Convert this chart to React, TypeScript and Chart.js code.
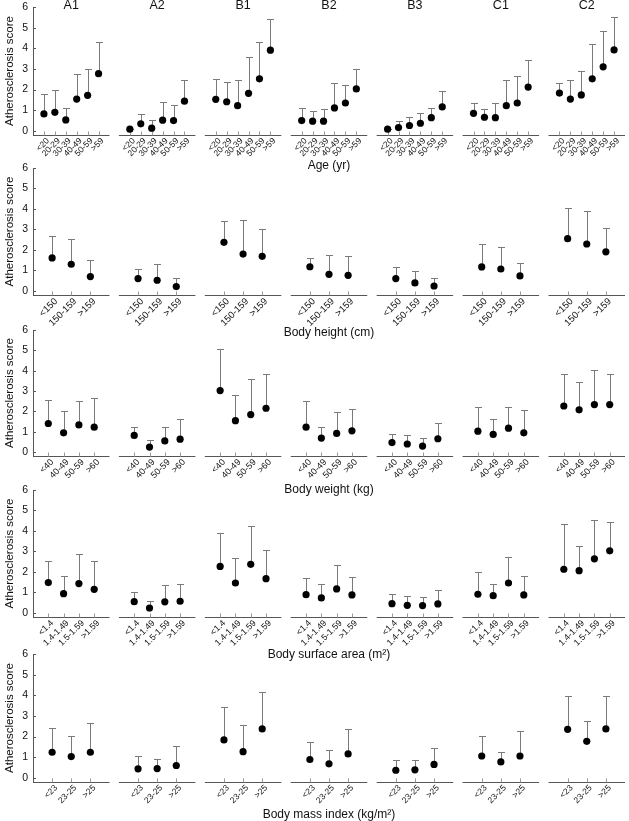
import React, { useEffect, useRef } from "react";
import { Chart, registerables } from "chart.js";
Chart.register(...registerables);

const FONT = "'Liberation Sans', Arial, sans-serif";
Chart.defaults.font.family = FONT;

const PANELS = ["A1", "A2", "B1", "B2", "B3", "C1", "C2"];
const Y_TICKS = [0, 1, 2, 3, 4, 5, 6];
const Y_TITLE = "Atherosclerosis score";

const AGE_LABELS = ["<20", "20-29", "30-39", "40-49", "50-59", ">59"];
const AGE_MEAN = [
  [0.82, 0.9, 0.53, 1.54, 1.72, 2.77],
  [0.08, 0.34, 0.13, 0.52, 0.5, 1.44],
  [1.53, 1.41, 1.22, 1.82, 2.52, 3.91],
  [0.5, 0.47, 0.47, 1.11, 1.35, 2.03],
  [0.08, 0.16, 0.26, 0.37, 0.64, 1.16],
  [0.85, 0.66, 0.64, 1.22, 1.35, 2.12],
  [1.83, 1.54, 1.74, 2.52, 3.1, 3.92],
];
const AGE_UPPER = [
  [1.8, 1.98, 1.09, 2.75, 3.02, 4.32],
  [0.1, 0.82, 0.53, 1.39, 1.24, 2.45],
  [2.52, 2.35, 2.46, 3.59, 4.32, 5.42],
  [1.13, 0.95, 1.06, 2.33, 2.22, 3.02],
  [0.1, 0.48, 0.66, 0.86, 1.13, 1.95],
  [1.35, 1.06, 1.33, 2.44, 2.64, 3.41],
  [2.3, 2.44, 2.89, 4.21, 4.86, 5.53],
];

const HEIGHT_LABELS = ["<150", "150-159", ">159"];
const HEIGHT_MEAN = [
  [1.61, 1.3, 0.7],
  [0.6, 0.52, 0.21],
  [2.37, 1.8, 1.69],
  [1.18, 0.81, 0.76],
  [0.6, 0.39, 0.24],
  [1.17, 1.07, 0.73],
  [2.55, 2.29, 1.91],
];
const HEIGHT_UPPER = [
  [2.68, 2.55, 1.52],
  [1.09, 1.33, 0.63],
  [3.42, 3.47, 3.03],
  [1.62, 1.77, 1.72],
  [1.15, 0.96, 0.62],
  [2.3, 2.16, 1.38],
  [4.05, 3.91, 3.06],
];

const WEIGHT_LABELS = ["<40", "40-49", "50-59", ">60"];
const WEIGHT_MEAN = [
  [1.4, 0.94, 1.33, 1.22],
  [0.81, 0.24, 0.54, 0.63],
  [3.02, 1.54, 1.84, 2.15],
  [1.22, 0.68, 0.91, 1.04],
  [0.46, 0.39, 0.29, 0.65],
  [1.02, 0.86, 1.17, 0.94],
  [2.26, 2.07, 2.33, 2.33],
];
const WEIGHT_UPPER = [
  [2.54, 2.02, 2.52, 2.67],
  [1.24, 0.59, 1.22, 1.61],
  [5.06, 2.81, 3.59, 3.85],
  [2.52, 1.22, 1.95, 2.11],
  [0.88, 0.83, 0.68, 1.41],
  [2.21, 1.63, 2.2, 2.05],
  [3.85, 3.45, 4.02, 3.82],
];

const BSA_LABELS = ["<1.4", "1.4-1.49", "1.5-1.59", ">1.59"];
const BSA_MEAN = [
  [1.48, 0.94, 1.43, 1.15],
  [0.55, 0.24, 0.54, 0.57],
  [2.27, 1.46, 2.37, 1.67],
  [0.89, 0.73, 1.17, 0.88],
  [0.45, 0.37, 0.36, 0.44],
  [0.91, 0.84, 1.46, 0.88],
  [2.13, 2.06, 2.64, 3.03],
];
const BSA_UPPER = [
  [2.53, 1.8, 2.87, 2.53],
  [1.02, 0.57, 1.35, 1.41],
  [3.89, 2.68, 4.23, 3.06],
  [1.69, 1.41, 2.33, 1.75],
  [0.92, 0.81, 0.79, 1.12],
  [1.98, 1.41, 2.72, 1.78],
  [4.35, 3.29, 4.52, 4.43],
];

const BMI_LABELS = ["<23", "23-25", ">25"];
const BMI_MEAN = [
  [1.24, 1.03, 1.24],
  [0.44, 0.45, 0.6],
  [1.84, 1.27, 2.37],
  [0.89, 0.68, 1.16],
  [0.37, 0.39, 0.65],
  [1.06, 0.77, 1.06],
  [2.35, 1.77, 2.37],
];
const BMI_UPPER = [
  [2.42, 2.02, 2.66],
  [1.05, 0.92, 1.53],
  [3.44, 2.55, 4.16],
  [1.74, 1.35, 2.37],
  [0.85, 0.87, 1.47],
  [2.05, 1.26, 2.27],
  [3.97, 2.77, 3.97],
];

// layout constants (px)
const W = 629;
const PANEL_W = 77;
const PANEL_PITCH = 86.5;
const TOTAL_W = PANEL_PITCH * 6 + PANEL_W;
const Y_AXIS_W = 33;
const TOP_PAD = 8;
const BOTTOM_H = 48;

const ROWS = [
  { labels: AGE_LABELS, mean: AGE_MEAN, upper: AGE_UPPER, title: "Age (yr)", yTop: 7, axisY: 135, titleOff: 31, panelTitles: true, tickFont: 8.5 },
  { labels: HEIGHT_LABELS, mean: HEIGHT_MEAN, upper: HEIGHT_UPPER, title: "Body height (cm)", yTop: 168, axisY: 295, titleOff: 38, panelTitles: false, tickFont: 9.5 },
  { labels: WEIGHT_LABELS, mean: WEIGHT_MEAN, upper: WEIGHT_UPPER, title: "Body weight (kg)", yTop: 330, axisY: 456, titleOff: 34, panelTitles: false, tickFont: 9 },
  { labels: BSA_LABELS, mean: BSA_MEAN, upper: BSA_UPPER, title: "Body surface area (m\u00B2)", yTop: 490, axisY: 617, titleOff: 38, panelTitles: false, tickFont: 8.8 },
  { labels: BMI_LABELS, mean: BMI_MEAN, upper: BMI_UPPER, title: "Body mass index (kg/m\u00B2)", yTop: 654, axisY: 782, titleOff: 33, panelTitles: false, tickFont: 8.5 },
];

type RowCfg = (typeof ROWS)[number];

function RowChart({ cfg }: { cfg: RowCfg }) {
  const ref = useRef<HTMLCanvasElement>(null);
  const height = cfg.axisY - cfg.yTop + TOP_PAD + BOTTOM_H;

  useEffect(() => {
    const n = cfg.labels.length;
    const step = PANEL_W / (n + 1);
    const pos = (p: number, i: number) => p * PANEL_PITCH + (i + 1) * step;
    const points: { x: number; y: number; hi: number }[] = [];
    const tickVals: number[] = [];
    cfg.mean.forEach((arr, p) =>
      arr.forEach((v, i) => {
        points.push({ x: pos(p, i), y: v, hi: cfg.upper[p][i] });
        tickVals.push(pos(p, i));
      })
    );

    const decor = {
      id: "decor",
      beforeDatasetsDraw(chart: any) {
        const { ctx, chartArea, scales } = chart;
        const xs = scales.x;
        const ys = scales.y;
        ctx.save();
        ctx.strokeStyle = "#555";
        ctx.lineWidth = 1;
        const by = Math.round(chartArea.bottom) + 0.5;
        for (let p = 0; p < PANELS.length; p++) {
          const x0 = xs.getPixelForValue(p * PANEL_PITCH);
          const x1 = xs.getPixelForValue(p * PANEL_PITCH + PANEL_W);
          ctx.beginPath();
          ctx.moveTo(x0, by);
          ctx.lineTo(x1, by);
          ctx.stroke();
        }
        ctx.strokeStyle = "#999";
        tickVals.forEach((v) => {
          const px = Math.round(xs.getPixelForValue(v)) + 0.5;
          ctx.beginPath();
          ctx.moveTo(px, by);
          ctx.lineTo(px, by - 4);
          ctx.stroke();
        });
        ctx.strokeStyle = "#555";
        Y_TICKS.forEach((v) => {
          const py = Math.round(ys.getPixelForValue(v)) + 0.5;
          ctx.beginPath();
          ctx.moveTo(chartArea.left, py);
          ctx.lineTo(chartArea.left + 3, py);
          ctx.stroke();
        });
        ctx.strokeStyle = "#7a7a7a";
        points.forEach((pt) => {
          const px = Math.round(xs.getPixelForValue(pt.x)) + 0.5;
          const y0 = ys.getPixelForValue(pt.y);
          const y1 = Math.round(ys.getPixelForValue(pt.hi)) + 0.5;
          ctx.beginPath();
          ctx.moveTo(px, y0);
          ctx.lineTo(px, y1);
          ctx.moveTo(px - 3.5, y1);
          ctx.lineTo(px + 3.5, y1);
          ctx.stroke();
        });
        ctx.restore();
      },
      afterDraw(chart: any) {
        const { ctx, chartArea, scales } = chart;
        const xs = scales.x;
        ctx.save();
        ctx.fillStyle = "#111";
        ctx.textAlign = "center";
        ctx.textBaseline = "middle";
        ctx.font = `12px ${FONT}`;
        ctx.fillText(cfg.title, (chartArea.left + chartArea.right) / 2, chartArea.bottom + cfg.titleOff);
        if (cfg.panelTitles) {
          ctx.font = `12.5px ${FONT}`;
          PANELS.forEach((t, p) => {
            const cx = xs.getPixelForValue(p * PANEL_PITCH + PANEL_W / 2);
            ctx.fillText(t, cx, chartArea.top - 1);
          });
        }
        ctx.font = `11.5px ${FONT}`;
        ctx.translate(10, (chartArea.top + chartArea.bottom) / 2);
        ctx.rotate(-Math.PI / 2);
        ctx.fillText(Y_TITLE, 0, 0);
        ctx.restore();
      },
    };

    const chart = new Chart(ref.current as HTMLCanvasElement, {
      type: "scatter",
      data: {
        datasets: [
          {
            data: points,
            pointRadius: 3.6,
            pointBackgroundColor: "#000",
            pointBorderColor: "#000",
            pointBorderWidth: 0,
            showLine: false,
          },
        ],
      },
      options: {
        animation: false,
        responsive: false,
        devicePixelRatio: 1,
        events: [],
        layout: { padding: { top: TOP_PAD, left: 0, right: 0, bottom: 0 } },
        plugins: { legend: { display: false }, tooltip: { enabled: false } },
        scales: {
          x: {
            type: "linear",
            min: 0,
            max: TOTAL_W,
            border: { display: false },
            grid: { display: false, drawTicks: false },
            afterBuildTicks: (ax: any) => {
              ax.ticks = tickVals.map((v) => ({ value: v }));
            },
            afterFit: (ax: any) => {
              ax.height = BOTTOM_H;
              ax.paddingLeft = 0;
              ax.paddingRight = 0;
            },
            ticks: {
              autoSkip: false,
              maxRotation: 45,
              minRotation: 45,
              padding: 1,
              labelOffset: 4,
              color: "#111",
              font: { size: cfg.tickFont, family: FONT },
              callback: (_v: any, idx: number) => cfg.labels[idx % n],
            },
          },
          y: {
            type: "linear",
            min: -0.2,
            max: 6,
            border: { display: true, color: "#555", width: 1 },
            grid: { display: false, drawTicks: false },
            afterBuildTicks: (ax: any) => {
              ax.ticks = Y_TICKS.map((v) => ({ value: v }));
            },
            afterFit: (ax: any) => {
              ax.width = Y_AXIS_W;
              ax.paddingTop = 0;
              ax.paddingBottom = 0;
            },
            ticks: {
              padding: 5,
              color: "#111",
              font: { size: 10.5, family: FONT },
            },
          },
        },
      } as any,
      plugins: [decor],
    });
    return () => chart.destroy();
  }, []);

  return (
    <canvas
      ref={ref}
      width={W}
      height={height}
      style={{ position: "absolute", left: 0, top: cfg.yTop - TOP_PAD, width: W, height }}
    />
  );
}

export default function App() {
  return (
    <div style={{ position: "absolute", left: 0, top: 0, width: W, height: 821, background: "#fff", overflow: "hidden" }}>
      {ROWS.map((r, i) => (
        <RowChart key={i} cfg={r} />
      ))}
    </div>
  );
}
